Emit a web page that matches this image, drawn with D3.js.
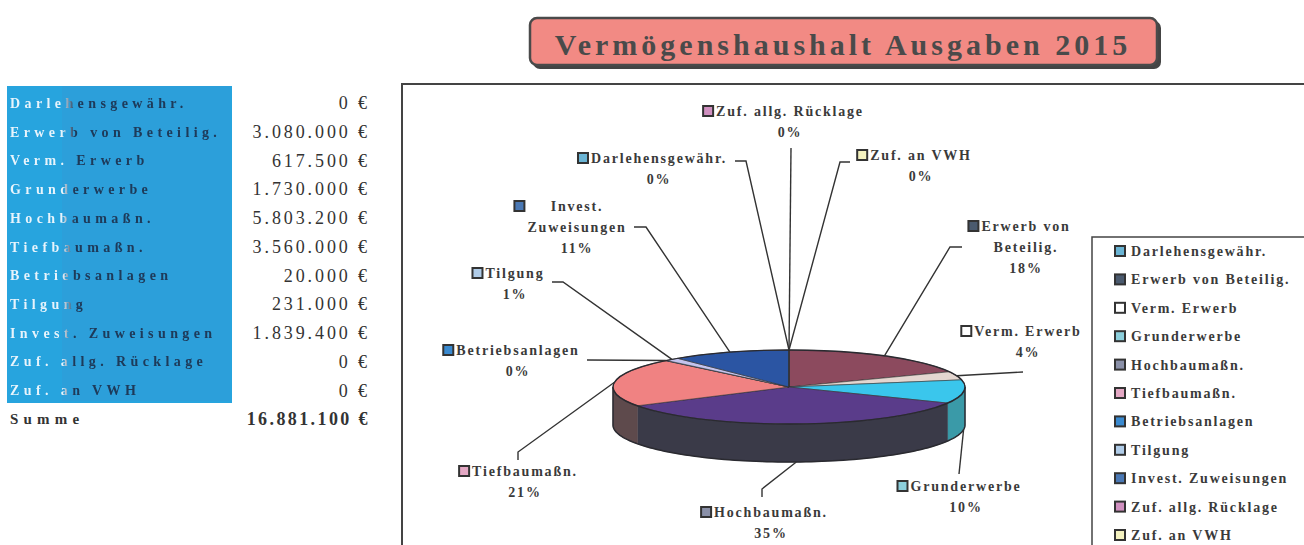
<!DOCTYPE html>
<html><head><meta charset="utf-8">
<script src="https://cdn.jsdelivr.net/npm/d3@7"></script>
<style>body{margin:0;background:#fff}svg{display:block}</style>
</head><body>
<svg id="c" width="1304" height="545"></svg>
<script>
// ---- data ----
const categories = ["Darlehensgewähr.","Erwerb von Beteilig.","Verm. Erwerb","Grunderwerbe","Hochbaumaßn.","Tiefbaumaßn.","Betriebsanlagen","Tilgung","Invest. Zuweisungen","Zuf. allg. Rücklage","Zuf. an VWH"];
const amounts = [0,3080000,617500,1730000,5803200,3560000,20000,231000,1839400,0,0];
const title = "Vermögenshaushalt Ausgaben 2015";
const sumLabel = "Summe";

// ---- styles ----
const topColors  = ["#9a9af0","#8c4a5e","#e4d6d0","#3ac6ec","#5a3c8a","#f08282","#2a6ac0","#c4c4ee","#2b55a3","#e060c0","#f4f0a0"];
const sideColors = ["#6a6aa8","#5a3440","#a89890","#3a9aa8","#3a3a48","#5e4a4c","#1c4a88","#8a8aaa","#1c3a72","#9a4088","#a8a070"];
const swatch     = ["#6ab4d4","#4a5a6e","#ffffff","#8ccfdc","#8a90a8","#e4a8c4","#3a8ad0","#b0cce8","#4a78b4","#d090c0","#f4f2c0"];
const serif = "'Liberation Serif','DejaVu Serif',serif";

const svg = d3.select("#c");
const defs = svg.append("defs");
const g0 = defs.append("linearGradient").attr("id","tg").attr("gradientUnits","userSpaceOnUse")
  .attr("x1",0).attr("x2",232).attr("y1",0).attr("y2",0);
[[0,"#e8f4fc"],[0.27,"#e8f4fc"],[0.32,"#1e3a5a"],[1,"#1e3a5a"]].forEach(s=>g0.append("stop").attr("offset",s[0]).attr("stop-color",s[1]));
defs.append("filter").attr("id","bl").append("feGaussianBlur").attr("stdDeviation",0.7);

// ---- locale ----
const de = d3.formatLocale({decimal:",",thousands:".",grouping:[3],currency:["",""]});
const fmt = de.format(",.0f");
const total = d3.sum(amounts);

// ---- left table ----
const rowY = d3.scaleLinear().domain([0,11]).range([103,419]);
svg.append("rect").attr("x",7).attr("y",86).attr("width",225).attr("height",317).attr("fill","#27a4de");
svg.append("rect").attr("x",62).attr("y",86).attr("width",168).attr("height",315).attr("fill","#2c9fda");
const tl = svg.append("g").attr("font-family",serif).attr("font-weight","bold").attr("font-size",14)
  .attr("letter-spacing","4.4px").attr("fill","url(#tg)").attr("filter","url(#bl)");
categories.forEach((c,i)=>tl.append("text").attr("x",10).attr("y",rowY(i)).attr("dy","0.35em").text(c));
svg.append("text").attr("x",10).attr("y",rowY(11)).attr("dy","0.35em").attr("font-family",serif)
  .attr("font-weight","bold").attr("font-size",15).attr("letter-spacing","5.2px").attr("fill","#333").text(sumLabel);
const tv = svg.append("g").attr("font-family",serif).attr("font-size",18).attr("letter-spacing","2.9px").attr("fill","#333").attr("text-anchor","end");
amounts.forEach((v,i)=>tv.append("text").attr("x",370).attr("y",rowY(i)).attr("dy","0.35em").text(fmt(v)+" €"));
tv.append("text").attr("x",370).attr("y",rowY(11)).attr("dy","0.35em").attr("font-weight","bold").attr("letter-spacing","2.4px").text(fmt(total)+" €");

// ---- frame ----
svg.append("path").attr("d","M402,545V84H1304").attr("fill","none").attr("stroke","#444").attr("stroke-width",2);

// ---- title ----
svg.append("rect").attr("x",533).attr("y",21).attr("width",628).attr("height",48).attr("rx",7).attr("fill","#444");
svg.append("rect").attr("x",530).attr("y",18).attr("width",627).attr("height",47).attr("rx",7)
  .attr("fill","#f28a84").attr("stroke","#4a4a4a").attr("stroke-width",2.5);
svg.append("text").attr("x",843).attr("y",44).attr("dy","0.35em").attr("text-anchor","middle")
  .attr("font-family",serif).attr("font-weight","bold").attr("font-size",30).attr("letter-spacing","4px")
  .attr("fill","#4a4a4a").text(title);

// ---- 3D pie ----
const cx=789, cy=387, rx=176, ry=37, depth=38;
const pie = d3.pie().sort(null).value(d=>d).startAngle(0).endAngle(2*Math.PI);
const arcs = pie(amounts);
const rim = (a,dy=0)=>[cx+rx*Math.sin(a), cy-ry*Math.cos(a)+dy];
const sideG = svg.append("g");
arcs.forEach((d,i)=>{
  const s=Math.max(d.startAngle,Math.PI/2), e=Math.min(d.endAngle,1.5*Math.PI);
  if(e<=s) return;
  const n=Math.max(2,Math.ceil((e-s)/0.02));
  const as=d3.range(n+1).map(k=>s+(e-s)*k/n);
  const pts=as.map(a=>rim(a)).concat(as.slice().reverse().map(a=>rim(a,depth)));
  sideG.append("path").attr("d","M"+pts.map(p=>p.join(",")).join("L")+"Z")
    .attr("fill",sideColors[i]).attr("stroke",sideColors[i]).attr("stroke-width",0.5);
});
{
  const as=d3.range(0,101).map(k=>Math.PI/2+Math.PI*k/100);
  const pts=[rim(Math.PI/2)].concat(as.map(a=>rim(a,depth))).concat([rim(1.5*Math.PI)]);
  sideG.append("path").attr("d","M"+pts.map(p=>p.join(",")).join("L")).attr("fill","none").attr("stroke","#2a2a30").attr("stroke-width",1.5);
}
const topG = svg.append("g").attr("transform",`translate(${cx},${cy}) scale(1,${ry/rx})`);
const arcGen = d3.arc().innerRadius(0).outerRadius(rx);
topG.selectAll("path").data(arcs).join("path").attr("d",arcGen)
  .attr("fill",(d,i)=>topColors[i]).attr("stroke","#333").attr("stroke-width",0.6)
  .attr("vector-effect","non-scaling-stroke");
topG.append("ellipse").attr("rx",rx).attr("ry",rx).attr("fill","none").attr("stroke","#2a2a30").attr("stroke-width",1.4).attr("vector-effect","non-scaling-stroke");

// ---- data labels ----
const raw = amounts.map(v=>v/total*100);
const pct = raw.map(Math.floor);
let rest = 100-d3.sum(pct);
d3.range(raw.length).sort((a,b)=>(raw[b]-pct[b])-(raw[a]-pct[a])).slice(0,rest).forEach(i=>pct[i]++);

const labelLayout = [
  {bx:659,y:158,elbow:[[735,161],[746,161]]},
  {bx:1026,y:226,wrap:true,elbow:[[962,247],[950,247]]},
  {bx:1028,y:331,elbow:[[1023,372]]},
  {bx:966,y:486,elbow:[[959,474]]},
  {bx:771,y:512,elbow:[[762,497],[762,489]]},
  {bx:525,y:471,elbow:[[518,460],[518,452]]},
  {bx:518,y:350,elbow:[[587,360]]},
  {bx:515,y:273,elbow:[[552,282],[563,282]]},
  {bx:577,y:206,wrap:true,elbow:[[634,227],[646,227]]},
  {bx:790,y:111,elbow:[[791,148]]},
  {bx:921,y:155,elbow:[[850,162],[840,162]]}
];
const lineH = 21;
const lead = svg.append("g").attr("fill","none").attr("stroke","#333").attr("stroke-width",1.4);
const lab = svg.append("g").attr("font-family",serif).attr("font-weight","bold").attr("font-size",14)
  .attr("letter-spacing","1.8px").attr("fill","#3a3a3a").attr("text-anchor","middle");
arcs.forEach((d,i)=>{
  const L=labelLayout[i];
  const m=(d.startAngle+d.endAngle)/2;
  const end = rim(m, Math.cos(m)<0?depth:0);
  lead.append("path").attr("d","M"+L.elbow.concat([end]).map(p=>p.join(",")).join("L"));
  let lines=[categories[i]];
  if(L.wrap){const k=categories[i].lastIndexOf(" ");lines=[categories[i].slice(0,k),categories[i].slice(k+1)];}
  lines.push(pct[i]+"%");
  let maxW=0;
  lines.forEach((t,j)=>{
    const el=lab.append("text").attr("x",L.bx).attr("y",L.y+j*lineH).attr("dy","0.35em").text(t);
    if(j<lines.length-1) maxW=Math.max(maxW,el.node().getComputedTextLength());
  });
  const sx = L.bx - maxW/2 - 13;
  svg.append("rect").attr("x",sx).attr("y",L.y-5).attr("width",10).attr("height",10)
    .attr("fill",swatch[i]).attr("stroke","#333").attr("stroke-width",2);
});

// ---- legend ----
svg.append("rect").attr("x",1092).attr("y",237).attr("width",240).attr("height",340)
  .attr("fill","#fff").attr("stroke","#444").attr("stroke-width",1.5);
const legY = d3.scaleLinear().domain([0,categories.length-1]).range([251,535]);
const lg = svg.append("g").attr("font-family",serif).attr("font-weight","bold").attr("font-size",14)
  .attr("letter-spacing","1.8px").attr("fill","#3a3a3a");
categories.forEach((c,i)=>{
  lg.append("rect").attr("x",1115).attr("y",legY(i)-5).attr("width",10).attr("height",10)
    .attr("fill",swatch[i]).attr("stroke","#333").attr("stroke-width",2);
  lg.append("text").attr("x",1131).attr("y",legY(i)).attr("dy","0.35em").text(c);
});
</script>
</body></html>
